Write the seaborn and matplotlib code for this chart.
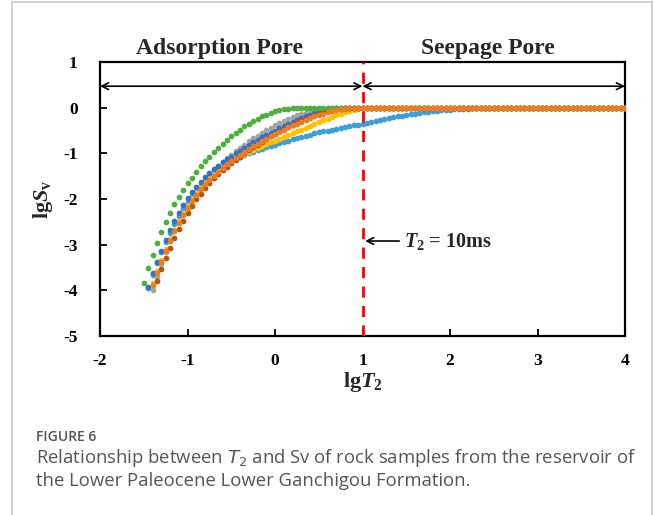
import numpy as np
import pandas as pd
import matplotlib
matplotlib.use("Agg")
import matplotlib.pyplot as plt
import seaborn as sns
from matplotlib.lines import Line2D

# ---------------- data ----------------
# NMR T2 bins (lg T2, step 0.05) ; every series plateaus at lgSv = 0 up to lgT2 = 4
bin_step = 0.05
bin_end = 4.0

green_start = -1.50
green = [-3.83, -3.51, -3.22, -2.96, -2.72, -2.50, -2.30, -2.12, -1.95, -1.80,
         -1.66, -1.53, -1.40, -1.28, -1.17, -1.07, -0.97, -0.88, -0.79, -0.70,
         -0.62, -0.55, -0.48, -0.41, -0.35, -0.29, -0.24, -0.19, -0.15, -0.11,
         -0.08, -0.055, -0.035, -0.02, -0.01, -0.004, 0.0]

blue_start = -1.45
blue = [-3.92, -3.63, -3.38, -3.14, -2.90, -2.68, -2.48, -2.30, -2.13, -1.98,
        -1.85, -1.73, -1.62, -1.52, -1.43, -1.35, -1.27, -1.20, -1.13, -1.07,
        -1.00, -0.94, -0.88, -0.82, -0.76, -0.70, -0.65, -0.60, -0.55, -0.50,
        -0.45, -0.40, -0.35, -0.31, -0.27, -0.23, -0.19, -0.15, -0.12, -0.09,
        -0.065, -0.045, -0.03, -0.018, -0.01, -0.004, 0.0]

gray_start = -1.40
gray = [-4.00, -3.70, -3.42, -3.16, -2.92, -2.70, -2.50, -2.31, -2.14, -1.98,
        -1.83, -1.70, -1.58, -1.47, -1.37, -1.28, -1.19, -1.11, -1.03, -0.95,
        -0.88, -0.81, -0.74, -0.67, -0.61, -0.55, -0.49, -0.44, -0.39, -0.34,
        -0.29, -0.25, -0.21, -0.17, -0.14, -0.11, -0.08, -0.06, -0.04, -0.025,
        -0.015, -0.007, -0.002, 0.0]

orange_start = -1.40
orange = [-3.89, -3.62, -3.37, -3.14, -2.92, -2.71, -2.52, -2.35, -2.19, -2.04,
          -1.91, -1.79, -1.68, -1.58, -1.49, -1.40, -1.32, -1.24, -1.17, -1.10,
          -1.03, -0.97, -0.91, -0.85, -0.79, -0.73, -0.68, -0.63, -0.58, -0.53,
          -0.48, -0.43, -0.39, -0.35, -0.31, -0.27, -0.23, -0.19, -0.16, -0.13,
          -0.10, -0.075, -0.055, -0.038, -0.024, -0.013, -0.006, -0.002, 0.0]

brown_start = -1.35
brown = [-3.80, -3.54, -3.30, -3.07, -2.86, -2.66, -2.48, -2.31, -2.15, -2.01,
         -1.88, -1.76, -1.65, -1.55, -1.46, -1.37, -1.29, -1.21, -1.14, -1.07,
         -1.00, -0.93, -0.87, -0.81, -0.75, -0.69, -0.63, -0.58, -0.52, -0.47,
         -0.42, -0.37, -0.32, -0.28, -0.24, -0.20, -0.16, -0.13, -0.10, -0.075,
         -0.055, -0.038, -0.024, -0.013, -0.006, -0.002, 0.0]

yellow_start = -1.40
yellow = [-3.85, -3.58, -3.33, -3.10, -2.88, -2.68, -2.49, -2.31, -2.15, -2.00,
          -1.87, -1.75, -1.64, -1.54, -1.45, -1.37, -1.30, -1.23, -1.17, -1.11,
          -1.06, -1.01, -0.96, -0.92, -0.88, -0.84, -0.80, -0.76, -0.72, -0.68,
          -0.64, -0.60, -0.56, -0.52, -0.48, -0.44, -0.40, -0.36, -0.32, -0.28,
          -0.24, -0.20, -0.16, -0.13, -0.10, -0.07, -0.045, -0.025, -0.01, -0.003,
          0.0]

lightblue_start = -1.45
lightblue = [-3.95, -3.66, -3.40, -3.16, -2.94, -2.74, -2.55, -2.38, -2.22, -2.07,
             -1.94, -1.82, -1.71, -1.61, -1.52, -1.44, -1.37, -1.30, -1.24, -1.18,
             -1.13, -1.08, -1.04, -1.00, -0.96, -0.93, -0.90, -0.87, -0.84, -0.81,
             -0.78, -0.75, -0.72, -0.69, -0.66, -0.64, -0.61, -0.59, -0.56, -0.54,
             -0.52, -0.50, -0.48, -0.46, -0.44, -0.42, -0.40, -0.39, -0.37, -0.35,
             -0.33, -0.31, -0.29, -0.27, -0.25, -0.23, -0.21, -0.19, -0.175, -0.16,
             -0.145, -0.13, -0.115, -0.10, -0.09, -0.08, -0.07, -0.06, -0.05, -0.042,
             -0.035, -0.029, -0.024, -0.019, -0.015, -0.012, -0.009, -0.007, -0.005, -0.003,
             -0.002, -0.001, 0.0]

series_names = ["lightblue", "gray", "yellow", "blue", "brown", "green", "orange"]
series_data = {
    "lightblue": (lightblue_start, lightblue),
    "gray": (gray_start, gray),
    "yellow": (yellow_start, yellow),
    "blue": (blue_start, blue),
    "brown": (brown_start, brown),
    "green": (green_start, green),
    "orange": (orange_start, orange),
}
series_colors = {
    "lightblue": "#3C9FDC",
    "gray": "#A5A5A5",
    "yellow": "#FFC000",
    "blue": "#2C74C9",
    "brown": "#B8520F",
    "green": "#4DB03C",
    "orange": "#F07A22",
}

x_ticks = [-2, -1, 0, 1, 2, 3, 4]
y_ticks = [-5, -4, -3, -2, -1, 0, 1]

# ---------------- build table ----------------
rows = []
for name in series_names:
    start, vals = series_data[name]
    n_total = int(round((bin_end - start) / bin_step)) + 1
    full = list(vals) + [0.0] * (n_total - len(vals))
    for i, v in enumerate(full):
        rows.append({"lgT2": round(start + i * bin_step, 2), "lgSv": v, "sample": name})
df = pd.DataFrame(rows)

# ---------------- figure ----------------
sns.set_theme(style="white")
plt.rcParams["font.family"] = ["Liberation Serif", "DejaVu Serif"]
plt.rcParams["mathtext.fontset"] = "custom"
plt.rcParams["mathtext.rm"] = "Liberation Serif:bold"
plt.rcParams["mathtext.bf"] = "Liberation Serif:bold"
plt.rcParams["mathtext.it"] = "Liberation Serif:italic:bold"

fig = plt.figure(figsize=(6.54, 5.15), dpi=100)
ax = fig.add_axes([100 / 654, 1 - 336 / 515, 525 / 654, 274 / 515])

for name in series_names:
    sub = df[df["sample"] == name]
    sns.scatterplot(data=sub, x="lgT2", y="lgSv", color=series_colors[name],
                    s=17, linewidth=0, ax=ax, legend=False, zorder=3)

ax.set_xlim(-2, 4)
ax.set_ylim(-5, 1)
ax.set_xticks(x_ticks)
ax.set_yticks(y_ticks)
ax.set_xticklabels([str(t) for t in x_ticks], fontweight="bold", fontsize=12.5)
ax.set_yticklabels([str(t) for t in y_ticks], fontweight="bold", fontsize=12.5)
ax.tick_params(direction="in", length=5, width=1.3, colors="black",
               bottom=True, left=True, top=False, right=False)
ax.tick_params(axis="x", pad=12)
ax.tick_params(axis="y", pad=16)
for sp in ax.spines.values():
    sp.set_visible(True)
    sp.set_color("black")
    sp.set_linewidth(1.6)

ax.set_xlabel(r"lg$T_\mathrm{2}$", fontsize=16, fontweight="bold", labelpad=1)
ax.set_ylabel(r"lg$S_\mathrm{v}$", fontsize=16, fontweight="bold", labelpad=6)

# boundary at T2 = 10 ms
ax.axvline(1, color="#FF0000", lw=2, dashes=(4, 3), zorder=4)

# double arrows
arr_y = 0.47
ax.annotate("", xy=(-2, arr_y), xytext=(1, arr_y),
            arrowprops=dict(arrowstyle="<->", color="black", lw=1.2, shrinkA=0, shrinkB=0))
ax.annotate("", xy=(1, arr_y), xytext=(4, arr_y),
            arrowprops=dict(arrowstyle="<->", color="black", lw=1.2, shrinkA=0, shrinkB=0))

ax.text(-0.63, 1.07, "Adsorption Pore", fontsize=17, fontweight="bold",
        ha="center", va="bottom", transform=ax.transData, clip_on=False)
ax.text(2.43, 1.07, "Seepage Pore", fontsize=17, fontweight="bold",
        ha="center", va="bottom", transform=ax.transData, clip_on=False)

ax.annotate("", xy=(1.03, -2.92), xytext=(1.42, -2.92),
            arrowprops=dict(arrowstyle="->", color="black", lw=1.2, shrinkA=0, shrinkB=0))
ax.text(1.48, -2.92, r"$T_\mathrm{2}$ = 10ms", fontsize=14.5, fontweight="bold",
        ha="left", va="center")

# caption
cap_font = ["Open Sans", "DejaVu Sans"]
fig.text(36 / 654, 1 - 437 / 515, "FIGURE 6", fontsize=10, color="#555555",
         family=cap_font, va="center", ha="left", fontweight="semibold")
fig.text(36 / 654, 1 - 458 / 515,
         "Relationship between $\\mathit{T}_2$ and Sv of rock samples from the reservoir of",
         fontsize=13.3, color="#555555", family=cap_font,
         va="center", ha="left", math_fontfamily="dejavusans")
fig.text(36 / 654, 1 - 481 / 515,
         "the Lower Paleocene Lower Ganchigou Formation.",
         fontsize=13.3, color="#555555", family=cap_font,
         va="center", ha="left")

# card frame (left, top, right)
fc = "#C8C8C8"
fig.add_artist(Line2D([12 / 654, 12 / 654], [0, 1 - 2 / 515], color=fc, lw=1.2,
                      transform=fig.transFigure))
fig.add_artist(Line2D([12 / 654, 652 / 654], [1 - 2 / 515, 1 - 2 / 515], color=fc, lw=1.2,
                      transform=fig.transFigure))
fig.add_artist(Line2D([652 / 654, 652 / 654], [0, 1 - 2 / 515], color=fc, lw=1.2,
                      transform=fig.transFigure))

fig.savefig("out.png", dpi=100)
